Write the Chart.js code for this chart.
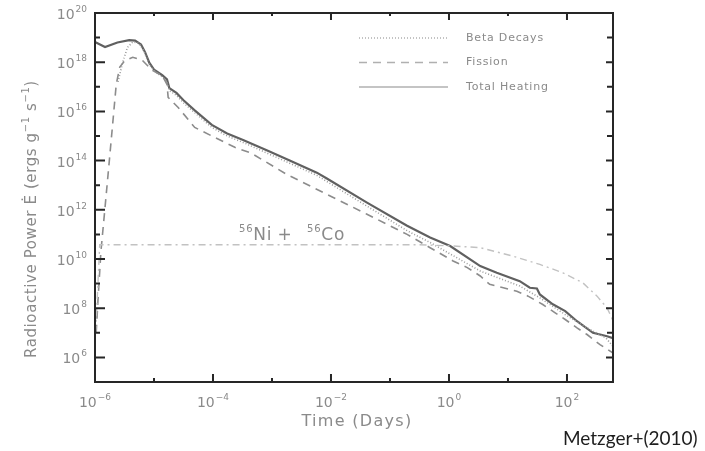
<!DOCTYPE html>
<html>
<head>
<meta charset="utf-8">
<title>Radioactive heating</title>
<script src="https://cdn.jsdelivr.net/npm/chart.js@4.4.1/dist/chart.umd.min.js"></script>
<style>
  html, body { margin: 0; padding: 0; background: #fff; }
  canvas { display: block; }
</style>
</head>
<body>
<canvas id="heating" width="705" height="451"></canvas>
<script>
// ============ data (log10 values: time in days, power in erg g^-1 s^-1) ============
const totalT = [-6.00, -5.83, -5.62, -5.42, -5.32, -5.22, -5.15, -5.08, -5.00, -4.86, -4.78, -4.74, -4.62, -4.50, -4.31, -4.02, -3.76, -3.50, -3.08, -2.70, -2.24, -2.07, -1.39, -0.71, -0.32, 0.02, 0.53, 0.81, 1.20, 1.37, 1.49, 1.54, 1.76, 1.97, 2.17, 2.44, 2.68, 2.78];
const totalE = [18.82, 18.62, 18.80, 18.90, 18.88, 18.72, 18.40, 17.98, 17.70, 17.47, 17.30, 16.95, 16.75, 16.45, 16.04, 15.45, 15.10, 14.85, 14.41, 14.00, 13.51, 13.27, 12.29, 11.35, 10.87, 10.53, 9.71, 9.44, 9.10, 8.83, 8.80, 8.56, 8.16, 7.88, 7.47, 7.00, 6.86, 6.78];

const betaT = [-5.61, -5.53, -5.45, -5.36, -5.26, -5.17, -5.08, -4.98, -4.86, -4.78, -4.74, -4.62, -4.50, -4.31, -4.02, -3.76, -3.50, -3.08, -2.24, -2.07, -1.39, -0.71, -0.32, 0.53, 1.20, 1.54, 1.97, 2.34, 2.66, 2.78];
const betaE = [17.20, 18.00, 18.60, 18.82, 18.78, 18.45, 17.90, 17.62, 17.40, 17.20, 16.85, 16.65, 16.35, 15.95, 15.35, 15.00, 14.75, 14.30, 13.40, 13.15, 12.15, 11.15, 10.67, 9.51, 8.90, 8.42, 7.74, 7.20, 6.79, 6.45];

const fissionT = [-5.98, -5.95, -5.90, -5.83, -5.78, -5.70, -5.64, -5.58, -5.50, -5.36, -5.20, -5.03, -4.86, -4.78, -4.76, -4.59, -4.31, -4.02, -3.63, -3.35, -2.75, -2.07, -1.39, -0.71, -0.32, 0.07, 0.31, 0.53, 0.69, 0.92, 1.15, 1.34, 1.59, 1.80, 1.97, 2.17, 2.34, 2.56, 2.78];
const fissionE = [7.00, 8.30, 10.30, 12.10, 13.40, 15.50, 17.10, 17.80, 18.05, 18.20, 18.08, 17.67, 17.45, 17.10, 16.57, 16.16, 15.35, 15.00, 14.54, 14.30, 13.44, 12.63, 11.82, 11.00, 10.46, 9.92, 9.65, 9.31, 8.97, 8.83, 8.69, 8.49, 8.15, 7.81, 7.54, 7.20, 6.93, 6.52, 6.18];

const nicoT = [-5.99, -5.95, -5.92, -3.00, -0.50, 0.07, 0.53, 1.08, 1.54, 1.93, 2.27, 2.51, 2.68, 2.76, 2.78];
const nicoE = [7.00, 9.00, 10.58, 10.58, 10.58, 10.53, 10.46, 10.12, 9.78, 9.44, 9.03, 8.49, 8.01, 7.60, 7.30];

// axis ranges and tick exponents
const xRange = [-6, 2.78];
const yRange = [5, 20];
const xMajor = [-6, -4, -2, 0, 2];
const xMinor = [-5, -3, -1, 1];
const yMajor = [6, 8, 10, 12, 14, 16, 18, 20];
const yMinor = [7, 9, 11, 13, 15, 17, 19];

const legendNames = ['Beta Decays', 'Fission', 'Total Heating'];
// ============ end of data ============

function points(ts, es) {
    return ts.map((t, i) => ({ x: Math.pow(10, t), y: Math.pow(10, es[i]) }));
}

const FONT = '"DejaVu Sans", sans-serif';
const GREY_TEXT = '#8a8a8a';

function sup(s) {
    return String(s).replace('-', '\u2212');
}

// draws "10" with a raised exponent, anchored at x by align
function drawPower(ctx, exp, x, y, align) {
    ctx.font = '14px ' + FONT;
    const wb = ctx.measureText('10').width;
    ctx.font = '9px ' + FONT;
    const we = ctx.measureText(sup(exp)).width + 1;
    let left = x;
    if (align === 'right') left = x - wb - we;
    if (align === 'center') left = x - (wb + we) / 2;
    ctx.textAlign = 'left';
    ctx.textBaseline = 'alphabetic';
    ctx.font = '14px ' + FONT;
    ctx.fillText('10', left, y);
    ctx.font = '9px ' + FONT;
    ctx.fillText(sup(exp), left + wb + 1, y - 7);
}

// text runs: [text, isSuperscript], drawn left to right from x
function drawRuns(ctx, runs, x, y, big, small, rise) {
    let cx = x;
    runs.forEach(r => {
        ctx.font = (r[1] ? small : big) + 'px ' + FONT;
        ctx.fillText(r[0], cx, r[1] ? y - rise : y);
        cx += ctx.measureText(r[0]).width;
    });
}

// ============ frame, ticks, labels, legend =================
const decor = {
    id: 'decor',
    afterDatasetsDraw(chart) {
        const ctx = chart.ctx;
        const a = chart.chartArea;
        const sx = chart.scales.x;
        const sy = chart.scales.y;
        ctx.save();

        // box
        ctx.strokeStyle = '#262626';
        ctx.lineWidth = 2;
        ctx.strokeRect(a.left, a.top, a.right - a.left, a.bottom - a.top);

        // inward ticks on all four sides
        ctx.beginPath();
        yMajor.concat(yMinor).forEach(e => {
            const y = sy.getPixelForValue(Math.pow(10, e));
            const major = yMajor.includes(e);
            ctx.moveTo(a.left, y); ctx.lineTo(a.left + (major ? 10 : 5), y);
            ctx.moveTo(a.right, y); ctx.lineTo(a.right - (major ? 7 : 6), y);
        });
        xMajor.concat(xMinor).forEach(e => {
            const x = sx.getPixelForValue(Math.pow(10, e));
            const major = xMajor.includes(e);
            ctx.moveTo(x, a.bottom); ctx.lineTo(x, a.bottom - (major ? 8 : 4));
            ctx.moveTo(x, a.top); ctx.lineTo(x, a.top + (major ? 7 : 3));
        });
        ctx.stroke();

        // tick labels
        ctx.fillStyle = GREY_TEXT;
        yMajor.forEach(e => {
            const y = sy.getPixelForValue(Math.pow(10, e));
            drawPower(ctx, e, a.left - 8, y + 6, 'right');
        });
        xMajor.forEach(e => {
            const x = sx.getPixelForValue(Math.pow(10, e));
            drawPower(ctx, e, x, a.bottom + 25, 'center');
        });

        // axis titles
        ctx.letterSpacing = '1.3px';
        ctx.font = '16px ' + FONT;
        ctx.textAlign = 'center';
        ctx.textBaseline = 'alphabetic';
        ctx.fillText('Time (Days)', (a.left + a.right) / 2 + 3, a.bottom + 44);

        const yTitle = [['Radioactive Power \u0116 (ergs g', false], ['\u22121', true], [' s', false], ['\u22121', true], [')', false]];
        ctx.letterSpacing = '0.6px';
        ctx.textAlign = 'left';
        ctx.save();
        ctx.translate(36, 358);
        ctx.rotate(-Math.PI / 2);
        drawRuns(ctx, yTitle, 0, 0, 15, 10, 7);
        ctx.restore();

        // isotope label
        ctx.letterSpacing = '0.8px';
        drawRuns(ctx, [['56', true], ['Ni', false]], 239, 240, 17, 10, 8);
        ctx.font = '17px ' + FONT;
        ctx.textAlign = 'center';
        ctx.fillText('+', 285, 240);
        ctx.textAlign = 'left';
        drawRuns(ctx, [['56', true], ['Co', false]], 307, 240, 17, 10, 8);

        // legend
        ctx.letterSpacing = '0.8px';
        ctx.font = '11px ' + FONT;
        ctx.textBaseline = 'middle';
        legendNames.forEach((name, i) => {
            const ds = chart.data.datasets.find(d => d.label === name);
            const y = a.top + 25 + i * 24.5;
            ctx.save();
            ctx.strokeStyle = '#b0b0b0';
            ctx.lineWidth = 1.3;
            ctx.setLineDash(ds.borderDash || []);
            ctx.beginPath();
            ctx.moveTo(359, y);
            ctx.lineTo(448, y);
            ctx.stroke();
            ctx.restore();
            ctx.fillStyle = GREY_TEXT;
            ctx.fillText(name, 466, y);
        });

        // citation
        ctx.letterSpacing = '0px';
        ctx.fillStyle = '#1e1e1e';
        ctx.font = '19px Lato, "Open Sans", sans-serif';
        ctx.textBaseline = 'alphabetic';
        ctx.fillText('Metzger+(2010)', 563, 445);

        ctx.restore();
    }
};

// ============= chart =====================
const ctx = document.getElementById('heating').getContext('2d');
const chart = new Chart(ctx, {
    type: 'line',
    data: {
        datasets: [{
            label: '56Ni + 56Co',
            data: points(nicoT, nicoE),
            borderColor: '#c2c2c2',
            borderWidth: 1.4,
            borderDash: [7, 4, 2, 4]
        }, {
            label: 'Fission',
            data: points(fissionT, fissionE),
            borderColor: '#8c8c8c',
            borderWidth: 1.6,
            borderDash: [8, 6]
        }, {
            label: 'Beta Decays',
            data: points(betaT, betaE),
            borderColor: '#9c9c9c',
            borderWidth: 1.6,
            borderDash: [1, 2]
        }, {
            label: 'Total Heating',
            data: points(totalT, totalE),
            borderColor: '#606060',
            borderWidth: 2.2
        }]
    },
    options: {
        responsive: false,
        animation: false,
        devicePixelRatio: 1,
        layout: { padding: { left: 95, top: 13, right: 92, bottom: 69 } },
        elements: { point: { radius: 0 }, line: { tension: 0, fill: false } },
        scales: {
            x: {
                type: 'logarithmic',
                display: false,
                bounds: 'data',
                min: Math.pow(10, xRange[0]),
                max: Math.pow(10, xRange[1])
            },
            y: {
                type: 'logarithmic',
                display: false,
                bounds: 'data',
                min: Math.pow(10, yRange[0]),
                max: Math.pow(10, yRange[1])
            }
        },
        plugins: { legend: { display: false }, tooltip: { enabled: false } }
    },
    plugins: [decor]
});
// ============= end of chart ==============
</script>
</body>
</html>
